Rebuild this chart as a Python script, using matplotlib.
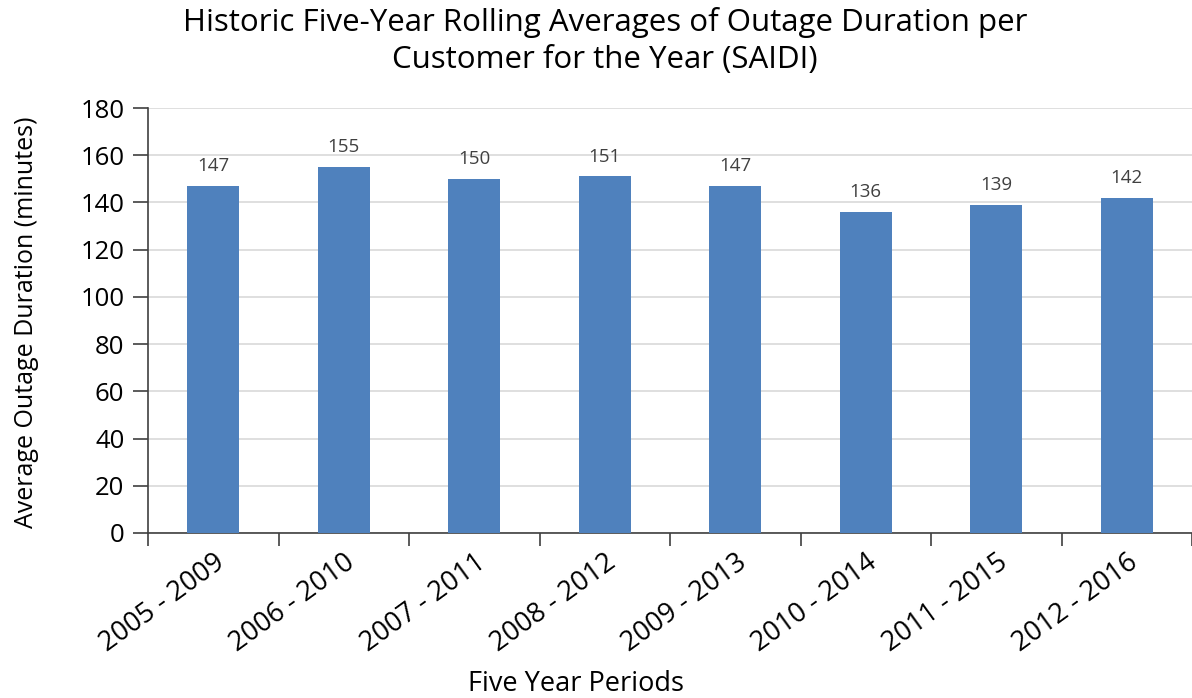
import matplotlib
matplotlib.use("Agg")
import matplotlib.pyplot as plt
import numpy as np

periods = ["2005 - 2009", "2006 - 2010", "2007 - 2011", "2008 - 2012",
           "2009 - 2013", "2010 - 2014", "2011 - 2015", "2012 - 2016"]
saidi = [147, 155, 150, 151, 147, 136, 139, 142]
y_ticks = [0, 20, 40, 60, 80, 100, 120, 140, 160, 180]

plt.rcParams["font.family"] = ["Open Sans", "DejaVu Sans"]

fig = plt.figure(figsize=(11.92, 6.98), dpi=100)
ax = fig.add_axes([148 / 1192, 1 - 533 / 698, (1192 - 148) / 1192, (533 - 108) / 698])

x = np.arange(len(periods))
ax.bar(x, saidi, width=0.4, color="#4f81bd", zorder=3)
for xi, v in zip(x, saidi):
    ax.text(xi, v + 4.5, f"{v}", ha="center", va="bottom", fontsize=13.5, color="#404040")

ax.set_xlim(-0.5, len(periods) - 0.5)
ax.set_ylim(0, 180)
ax.set_yticks(y_ticks)
ax.tick_params(axis="y", labelsize=18.5, length=11, width=1.2, color="#404040", pad=6)
ax.yaxis.grid(True, color="#d9d9d9", linewidth=1.2, zorder=0)

ax.set_xticks(x)
ax.set_xticklabels(periods, rotation=36, ha="right", rotation_mode="anchor", fontsize=19.5)
ax.tick_params(axis="x", length=0, pad=11)
ax.set_xticks(np.arange(len(periods) + 1) - 0.5, minor=True)
ax.tick_params(axis="x", which="minor", length=9, width=1.2, color="#404040", direction="out")

for s in ["top", "right"]:
    ax.spines[s].set_visible(False)
for s in ["left", "bottom"]:
    ax.spines[s].set_color("#404040")
    ax.spines[s].set_linewidth(1.2)

fig.text(27 / 1192, 1 - 322 / 698, "Average Outage Duration (minutes)", rotation=90,
         ha="center", va="center", fontsize=18)
fig.text(576 / 1192, 1 - 684 / 698, "Five Year Periods",
         ha="center", va="center", fontsize=19.5)
fig.text(605 / 1192, 1 - 41 / 698,
         "Historic Five-Year Rolling Averages of Outage Duration per\nCustomer for the Year (SAIDI)",
         ha="center", va="center", fontsize=22.5, linespacing=1.3)

fig.savefig("out.png", dpi=100)
